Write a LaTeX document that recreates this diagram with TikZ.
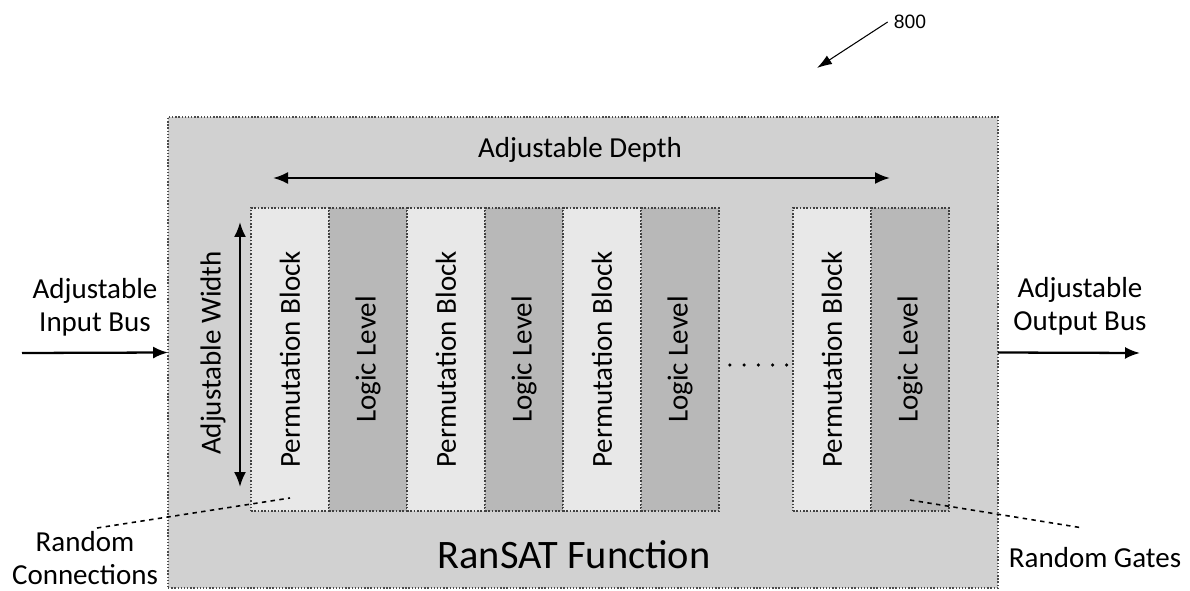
\documentclass[tikz,border=0pt]{standalone}
\usepackage{fontspec}
\setmainfont{Carlito}
\newfontfamily\reffont{Liberation Sans}
\usetikzlibrary{arrows.meta,positioning}
\definecolor{funcfill}{gray}{0.82}
\definecolor{permfill}{gray}{0.91}
\definecolor{logicfill}{gray}{0.72}
\tikzset{
  funcbox/.style={rectangle,draw=black!70,densely dotted,line width=0.8pt,fill=funcfill,minimum width=16.6cm,minimum height=9.42cm,inner sep=0pt,outer sep=0pt},
  permbox/.style={rectangle,draw=black!75,densely dotted,line width=0.9pt,fill=permfill,minimum width=1.56cm,minimum height=6.06cm,inner sep=0pt,outer sep=0pt},
  logicbox/.style={permbox,fill=logicfill},
  lbl/.style={font=\fontsize{16.5}{19}\selectfont,align=center},
  busarrow/.style={-{Latex[length=3mm,width=2.4mm]},line width=1.3pt},
  dimarrow/.style={{Latex[length=3mm,width=2.4mm]}-{Latex[length=3mm,width=2.4mm]},line width=1.3pt},
  randline/.style={dash pattern=on 2.5pt off 2.5pt,line width=0.9pt}
}

\begin{document}
\begin{tikzpicture}[x=0.02cm,y=-0.02cm]
  \useasboundingbox (0,0) rectangle (1190,591);

  % outer function block
  \node[funcbox] (ransat) at (583,352.5) {};
  \node[font=\fontsize{23}{27}\selectfont] (fname) at (574,555) {RanSAT Function};

  % columns
  \node[permbox,label={[rotate=90,lbl]center:Permutation Block}] (pb1) at (290,359.5) {};
  \node[logicbox,right=0pt of pb1,label={[rotate=90,lbl]center:Logic Level}] (ll1) {};
  \node[permbox,right=0pt of ll1,label={[rotate=90,lbl]center:Permutation Block}] (pb2) {};
  \node[logicbox,right=0pt of pb2,label={[rotate=90,lbl]center:Logic Level}] (ll2) {};
  \node[permbox,right=0pt of ll2,label={[rotate=90,lbl]center:Permutation Block}] (pb3) {};
  \node[logicbox,right=0pt of pb3,label={[rotate=90,lbl]center:Logic Level}] (ll3) {};
  \node[permbox,label={[rotate=90,lbl]center:Permutation Block}] (pbn) at (832,359.5) {};
  \node[logicbox,right=0pt of pbn,label={[rotate=90,lbl]center:Logic Level}] (lln) {};
  \draw[line width=2pt,line cap=round,dash pattern=on 0pt off 8.1pt,shorten <=6.2pt,shorten >=2.6pt]
    ([yshift=-0.11cm]ll3.east) -- ([yshift=-0.11cm]pbn.west);

  % depth and width
  \node[lbl] (depth) at (580,150) {Adjustable Depth};
  \coordinate (dl) at (273,178);
  \coordinate (dr) at (890,178);
  \draw[dimarrow] (dl) -- (dr);
  \node[lbl,rotate=90] (width) at (213,353) {Adjustable Width};
  \coordinate (wt) at (240,222);
  \coordinate (wb) at (240,487);
  \draw[dimarrow] (wt) -- (wb);

  % buses
  \node[lbl] (inlbl) at (95,307) {Adjustable\\Input Bus};
  \coordinate (insrc) at (22,353);
  \draw[busarrow] (insrc) -- (ransat.west);
  \node[lbl] (outlbl) at (1080,306) {Adjustable\\Output Bus};
  \coordinate (outdst) at (1140,353);
  \draw[busarrow] (ransat.east) -- (outdst);

  % random callouts
  \node[lbl] (rclbl) at (85,558) {Random\\Connections};
  \coordinate (rcs) at (97,528);
  \coordinate (rce) at (290,498);
  \draw[randline] (rcs) -- (rce);
  \node[lbl] (rglbl) at (1095,558) {Random Gates};
  \coordinate (rgs) at (910,500);
  \coordinate (rge) at (1083,528);
  \draw[randline] (rgs) -- (rge);

  % reference numeral
  \node[font=\reffont\fontsize{11}{13}\selectfont] (fig) at (910,22) {800};
  \coordinate (figpt) at (817,68);
  \draw[-{Latex[length=3mm,width=2mm]},line width=0.6pt] (fig.west) -- (figpt);
\end{tikzpicture}
\end{document}
